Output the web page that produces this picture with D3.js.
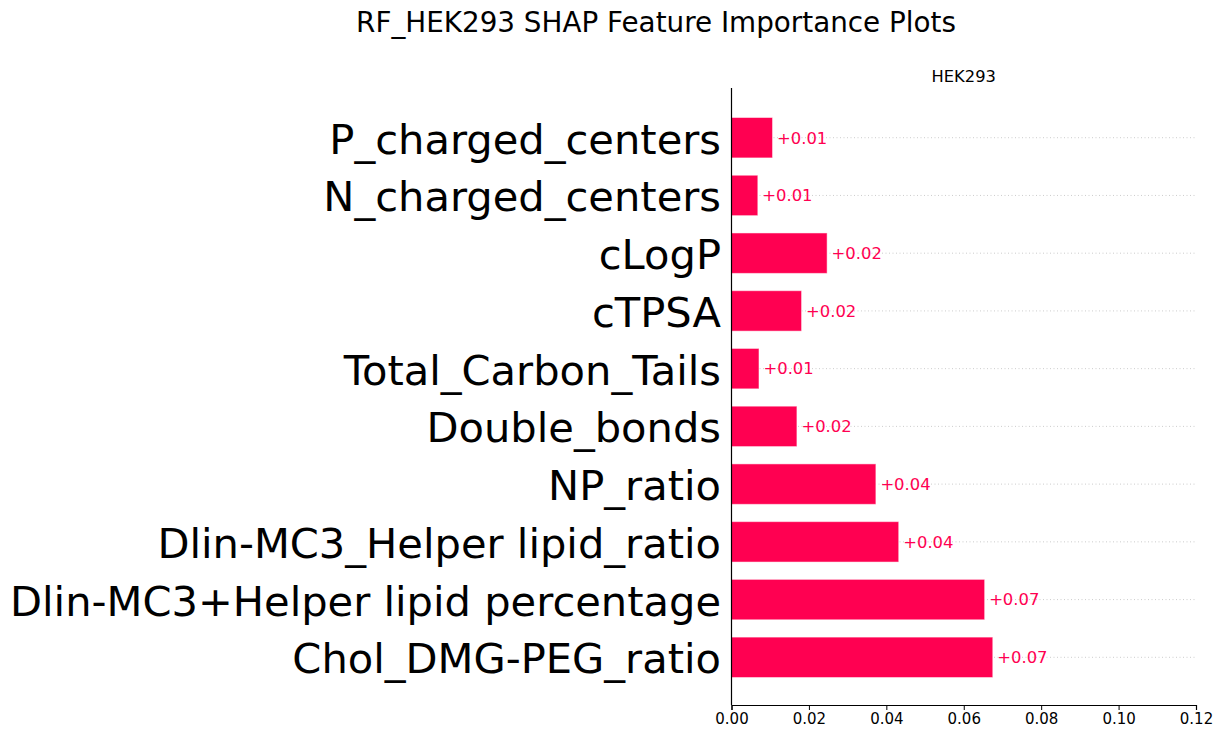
<!DOCTYPE html>
<html>
<head>
<meta charset="utf-8">
<script src="https://cdn.jsdelivr.net/npm/d3@7"></script>
<style>
  body { margin: 0; background: #fff; }
  svg { display: block; font-family: "DejaVu Sans", sans-serif; }
</style>
</head>
<body>
<div id="chart"></div>
<script>
// features, listed top to bottom as in the plot
const features = [
    'P_charged_centers',
    'N_charged_centers',
    'cLogP',
    'cTPSA',
    'Total_Carbon_Tails',
    'Double_bonds',
    'NP_ratio',
    'Dlin-MC3_Helper lipid_ratio',
    'Dlin-MC3+Helper lipid percentage',
    'Chol_DMG-PEG_ratio'
];
// mean |SHAP| values
const shapValues = [0.0106, 0.0068, 0.0247, 0.0181, 0.0071, 0.0169, 0.0373, 0.0432, 0.0654, 0.0675];
const xTicks = [0, 0.02, 0.04, 0.06, 0.08, 0.10, 0.12];
const chartTitle = 'RF_HEK293 SHAP Feature Importance Plots';
const panelTitle = 'HEK293';

const width = 1223, height = 740;
const plotLeft = 731.5, plotRight = 1196, plotTop = 88, plotBottom = 705;
const barColor = '#ff0051';

const svg = d3.select('#chart')
    .append('svg')
    .attr('width', width)
    .attr('height', height);

// x scale in SHAP units
const x = d3.scaleLinear().domain([0, 0.12]).range([plotLeft, plotRight]);
// y position: bottom feature sits at 0, top at n-1
const n = features.length;
const y = d3.scaleLinear().domain([-0.826, n - 1 + 0.861]).range([plotBottom, plotTop]);
const rowY = i => y(n - 1 - i);
const barH = (y(0) - y(1)) * 0.7;

// dotted guide lines at each row
svg.append('g')
    .selectAll('line')
    .data(features)
    .enter()
    .append('line')
    .attr('x1', plotLeft)
    .attr('x2', plotRight - 1)
    .attr('y1', (d, i) => rowY(i))
    .attr('y2', (d, i) => rowY(i))
    .style('stroke', '#cccccc')
    .style('stroke-width', 1)
    .style('stroke-dasharray', '1,2.5');

// bars
svg.append('g')
    .selectAll('rect')
    .data(shapValues)
    .enter()
    .append('rect')
    .attr('x', x(0))
    .attr('y', (d, i) => rowY(i) - barH / 2)
    .attr('width', d => x(d) - x(0))
    .attr('height', barH)
    .style('fill', barColor)
    .style('stroke', 'rgba(255,255,255,0.5)')
    .style('stroke-width', 1);

// value labels
svg.append('g')
    .selectAll('text')
    .data(shapValues)
    .enter()
    .append('text')
    .attr('x', d => x(d) + 4.5)
    .attr('y', (d, i) => rowY(i) + 5.8)
    .style('font-size', '16.4px')
    .style('fill', barColor)
    .text(d => '+' + d.toFixed(2));

// feature labels
svg.append('g')
    .selectAll('text')
    .data(features)
    .enter()
    .append('text')
    .attr('x', 721)
    .attr('y', (d, i) => rowY(i) + 16)
    .attr('text-anchor', 'end')
    .style('font-size', '41.6px')
    .style('fill', '#000')
    .text(d => d);

// bottom axis
const xAxis = d3.axisBottom(x)
    .tickValues(xTicks)
    .tickFormat(d3.format('.2f'))
    .tickSizeOuter(0)
    .tickSize(5);

const gx = svg.append('g')
    .attr('transform', `translate(0,${plotBottom})`)
    .call(xAxis);
gx.select('.domain').attr('stroke', '#000').attr('stroke-width', 1.2);
gx.selectAll('.tick line').attr('stroke', '#000').attr('stroke-width', 1);
gx.selectAll('.tick text')
    .attr('y', 8)
    .attr('dy', '0.71em')
    .style('font-family', '"DejaVu Sans", sans-serif')
    .style('font-size', '15px')
    .style('fill', '#000');

// left spine
svg.append('line')
    .attr('x1', plotLeft)
    .attr('x2', plotLeft)
    .attr('y1', plotTop)
    .attr('y2', plotBottom)
    .style('stroke', '#000')
    .style('stroke-width', 1.2);

// titles
svg.append('text')
    .attr('x', 656)
    .attr('y', 32)
    .attr('text-anchor', 'middle')
    .style('font-size', '27.8px')
    .style('fill', '#000')
    .text(chartTitle);

svg.append('text')
    .attr('x', (plotLeft + plotRight) / 2)
    .attr('y', 82)
    .attr('text-anchor', 'middle')
    .style('font-size', '16.3px')
    .style('fill', '#000')
    .text(panelTitle);
</script>
</body>
</html>
